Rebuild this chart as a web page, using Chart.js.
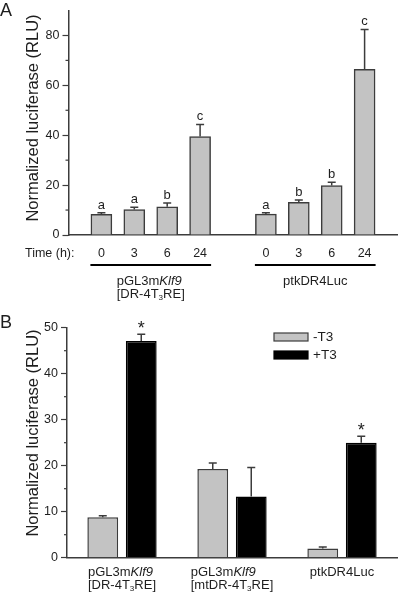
<!DOCTYPE html>
<html>
<head>
<meta charset="utf-8">
<script src="https://cdn.jsdelivr.net/npm/chart.js@4.4.0/dist/chart.umd.min.js"></script>
<style>
  html, body { margin: 0; padding: 0; background: #fff; }
  #wrapA { position: absolute; left: 0; top: 0; width: 400px; height: 305px; }
  #wrapB { position: absolute; left: 0; top: 305px; width: 400px; height: 291px; }
</style>
</head>
<body>
<div id="wrapA"><canvas id="chartA"></canvas></div>
<div id="wrapB"><canvas id="chartB"></canvas></div>
<script>
//--DATA: PANEL A--------------------------------------------------------------
const timeLabels = ["0", "3", "6", "24"];
const klf9Means = [8.3, 10.2, 11.3, 39.5];
const klf9Errors = [0.6, 0.9, 1.5, 4.8];
const klf9Letters = ["a", "a", "b", "c"];
const ptkMeans = [8.4, 13.1, 19.8, 66.4];
const ptkErrors = [0.5, 0.9, 1.3, 16.0];
const ptkLetters = ["a", "b", "b", "c"];
const groupNamesA = [["pGL3m<i>Klf9</i>", "[DR-4T<sub>3</sub>RE]"], ["ptkDR4Luc"]];
const yTicksA = [0, 20, 40, 60, 80];
const yMinorA = [10, 30, 50, 70];

//--DATA: PANEL B--------------------------------------------------------------
const constructNames = [
  ["pGL3m<i>Klf9</i>", "[DR-4T<sub>3</sub>RE]"],
  ["pGL3m<i>Klf9</i>", "[mtDR-4T<sub>3</sub>RE]"],
  ["ptkDR4Luc"],
];
const minusT3 = [8.8, 19.3, 2.0];
const minusT3Errors = [0.3, 1.3, 0.3];
const plusT3 = [47.1, 13.3, 25.0];
const plusT3Errors = [1.5, 6.3, 1.4];
const plusT3Marks = ["*", "", "*"];
const yTicksB = [0, 10, 20, 30, 40, 50];
const yMinorB = [5, 15, 25, 35, 45];

const family = "'Liberation Sans', Arial, sans-serif";
const axisColor = "#3c3c3c";
const textColor = "#1e1e1e";
const grayFill = "#c3c3c3";

//--HELPERS--------------------------------------------------------------------
function richSegments(text, size) {
  return text.split(/(<i>.*?<\/i>|<sub>.*?<\/sub>)/).filter((p) => p).map((p) => {
    if (p.startsWith("<i>")) return { t: p.slice(3, -4), font: `italic ${size}px ${family}`, dy: 0 };
    if (p.startsWith("<sub>")) return { t: p.slice(5, -6), font: `${size * 0.62}px ${family}`, dy: size * 0.32 };
    return { t: p, font: `${size}px ${family}`, dy: 0 };
  });
}

function richWidth(ctx, text, size) {
  let w = 0;
  richSegments(text, size).forEach((s) => {
    ctx.font = s.font;
    w += ctx.measureText(s.t).width;
  });
  return w;
}

function drawRich(ctx, text, x, y, size) {
  ctx.textAlign = "left";
  ctx.textBaseline = "middle";
  richSegments(text, size).forEach((s) => {
    ctx.font = s.font;
    ctx.fillText(s.t, x, y + s.dy);
    x += ctx.measureText(s.t).width;
  });
}

// label block: lines left aligned, block centered on cx
function drawLabelBlock(ctx, lines, cx, y, size, lineGap) {
  let maxW = 0;
  lines.forEach((l) => { maxW = Math.max(maxW, richWidth(ctx, l, size)); });
  lines.forEach((l, i) => drawRich(ctx, l, cx - maxW / 2, y + i * lineGap, size));
}

function noSidePadding(s) {
  s.paddingLeft = 0;
  s.paddingRight = 0;
}

//--PLUGINS--------------------------------------------------------------------
const errorBars = {
  id: "errorBars",
  afterDatasetsDraw(chart) {
    const ctx = chart.ctx;
    const yScale = chart.scales.y;
    chart.data.datasets.forEach((ds, di) => {
      const meta = chart.getDatasetMeta(di);
      meta.data.forEach((bar, i) => {
        const v = ds.data[i];
        if (v == null || !ds.errors || ds.errors[i] == null) return;
        const top = yScale.getPixelForValue(v + ds.errors[i]);
        ctx.save();
        ctx.strokeStyle = axisColor;
        ctx.lineWidth = 1.5;
        ctx.beginPath();
        ctx.moveTo(bar.x, bar.y);
        ctx.lineTo(bar.x, top);
        ctx.moveTo(bar.x - 4, top);
        ctx.lineTo(bar.x + 4, top);
        ctx.stroke();
        if (ds.marks && ds.marks[i]) {
          ctx.fillStyle = textColor;
          ctx.font = `${ds.markSize}px ${family}`;
          ctx.textAlign = "center";
          ctx.textBaseline = "alphabetic";
          ctx.fillText(ds.marks[i], bar.x, top - ds.markGap);
        }
        ctx.restore();
      });
    });
  },
};

const panelDecor = {
  id: "panelDecor",
  afterDraw(chart, args, opts) {
    const ctx = chart.ctx;
    const yScale = chart.scales.y;
    const area = chart.chartArea;
    ctx.save();
    ctx.fillStyle = textColor;

    // minor ticks
    ctx.strokeStyle = axisColor;
    ctx.lineWidth = 1.2;
    opts.minor.forEach((v) => {
      const py = yScale.getPixelForValue(v);
      ctx.beginPath();
      ctx.moveTo(area.left - 3, py);
      ctx.lineTo(area.left, py);
      ctx.stroke();
    });

    // panel letter
    ctx.font = `18px ${family}`;
    ctx.textAlign = "left";
    ctx.textBaseline = "alphabetic";
    ctx.fillText(opts.letter, 0, opts.letterY);

    // y title
    ctx.save();
    ctx.translate(33, opts.titleY);
    ctx.rotate(-Math.PI / 2);
    ctx.font = `16.5px ${family}`;
    ctx.textAlign = "center";
    ctx.textBaseline = "middle";
    ctx.fillText("Normalized luciferase (RLU)", 0, 0);
    ctx.restore();

    if (opts.draw) opts.draw(chart, ctx);
    ctx.restore();
  },
};

//--PANEL A--------------------------------------------------------------------
const labelsA = ["", ...timeLabels, "", ...timeLabels, ""];
const valuesA = [null, ...klf9Means, null, ...ptkMeans, null];
const errorsA = [null, ...klf9Errors, null, ...ptkErrors, null];
const marksA = ["", ...klf9Letters, "", ...ptkLetters, ""];

function drawGroupsA(chart, ctx) {
  const xScale = chart.scales.x;
  const groups = [[1, 4], [6, 9]];
  ctx.font = `12.5px ${family}`;
  ctx.textAlign = "right";
  ctx.textBaseline = "middle";
  ctx.fillText("Time (h):", chart.chartArea.left + 6, 254);
  groups.forEach((g, gi) => {
    const x0 = xScale.getPixelForValue(g[0]) - 11;
    const x1 = xScale.getPixelForValue(g[1]) + 11;
    ctx.strokeStyle = "#000";
    ctx.lineWidth = 2;
    ctx.beginPath();
    ctx.moveTo(x0, 265);
    ctx.lineTo(x1, 265);
    ctx.stroke();
    drawLabelBlock(ctx, groupNamesA[gi], (x0 + x1) / 2, 281, 13, 13);
  });
}

new Chart(document.getElementById("chartA"), {
  type: "bar",
  data: {
    labels: labelsA,
    datasets: [{
      data: valuesA,
      errors: errorsA,
      marks: marksA,
      markSize: 13,
      markGap: 4,
      backgroundColor: grayFill,
      borderColor: axisColor,
      borderWidth: 1.5,
      borderSkipped: "bottom",
      barThickness: 21,
    }],
  },
  options: {
    responsive: true,
    maintainAspectRatio: false,
    animation: false,
    layout: { padding: { top: 3.5, right: 2.5, left: 0, bottom: 0 } },
    plugins: {
      legend: { display: false },
      tooltip: { enabled: false },
      panelDecor: { letter: "A", letterY: 16, titleY: 118, minor: yMinorA, draw: drawGroupsA },
    },
    scales: {
      x: {
        offset: false,
        grid: { display: false, drawTicks: false },
        border: { color: axisColor, width: 1.5 },
        ticks: { padding: 11, autoSkip: false, maxRotation: 0, color: textColor, font: { family, size: 12.5 } },
        afterFit: (s) => { s.height = 70; noSidePadding(s); },
      },
      y: {
        min: 0,
        max: 90,
        afterBuildTicks: (s) => { s.ticks = yTicksA.map((v) => ({ value: v })); },
        afterFit: (s) => { s.width = 68.5; },
        grid: { drawOnChartArea: false, drawTicks: true, tickLength: 6, color: axisColor, tickWidth: 1.2 },
        border: { color: axisColor, width: 1.5 },
        ticks: { padding: 3, color: textColor, font: { family, size: 12.5 } },
      },
    },
  },
  plugins: [errorBars, panelDecor],
});

//--PANEL B--------------------------------------------------------------------
function drawGroupsB(chart, ctx) {
  const xScale = chart.scales.x;
  constructNames.forEach((lines, i) => {
    drawLabelBlock(ctx, lines, xScale.getPixelForValue(i), 267, 13, 13);
  });
  // legend
  const lx = 274;
  chart.data.datasets.forEach((ds, i) => {
    const ly = 28 + i * 18;
    ctx.fillStyle = ds.backgroundColor;
    ctx.fillRect(lx, ly, 34, 8);
    ctx.strokeStyle = ds.borderColor;
    ctx.lineWidth = 1.2;
    ctx.strokeRect(lx, ly, 34, 8);
    ctx.fillStyle = textColor;
    ctx.font = `13.5px ${family}`;
    ctx.textAlign = "left";
    ctx.textBaseline = "middle";
    ctx.fillText(ds.label, lx + 39, ly + 4.5);
  });
}

new Chart(document.getElementById("chartB"), {
  type: "bar",
  data: {
    labels: constructNames.map((l) => l.join(" ").replace(/<[^>]+>/g, "")),
    datasets: [
      {
        label: "-T3",
        data: minusT3,
        errors: minusT3Errors,
        backgroundColor: grayFill,
        borderColor: axisColor,
        borderWidth: 1.5,
        borderSkipped: "bottom",
      },
      {
        label: "+T3",
        data: plusT3,
        errors: plusT3Errors,
        marks: plusT3Marks,
        markSize: 18,
        markGap: 0,
        backgroundColor: "#000000",
        borderColor: "#000000",
        borderWidth: 1.5,
        borderSkipped: "bottom",
      },
    ],
  },
  options: {
    responsive: true,
    maintainAspectRatio: false,
    animation: false,
    datasets: { bar: { categoryPercentage: 0.7, barPercentage: 0.8 } },
    layout: { padding: { top: 22.7, right: 3, left: 0, bottom: 0 } },
    plugins: {
      legend: { display: false },
      tooltip: { enabled: false },
      panelDecor: { letter: "B", letterY: 23, titleY: 128, minor: yMinorB, draw: drawGroupsB },
    },
    scales: {
      x: {
        grid: { display: false, drawTicks: false },
        border: { color: axisColor, width: 1.5 },
        ticks: { display: false },
        afterFit: (s) => { s.height = 38.3; noSidePadding(s); },
      },
      y: {
        min: 0,
        max: 50,
        afterBuildTicks: (s) => { s.ticks = yTicksB.map((v) => ({ value: v })); },
        afterFit: (s) => { s.width = 67; },
        grid: { drawOnChartArea: false, drawTicks: true, tickLength: 6, color: axisColor, tickWidth: 1.2 },
        border: { color: axisColor, width: 1.5 },
        ticks: { padding: 3, color: textColor, font: { family, size: 12.5 } },
      },
    },
  },
  plugins: [errorBars, panelDecor],
});
</script>
</body>
</html>
